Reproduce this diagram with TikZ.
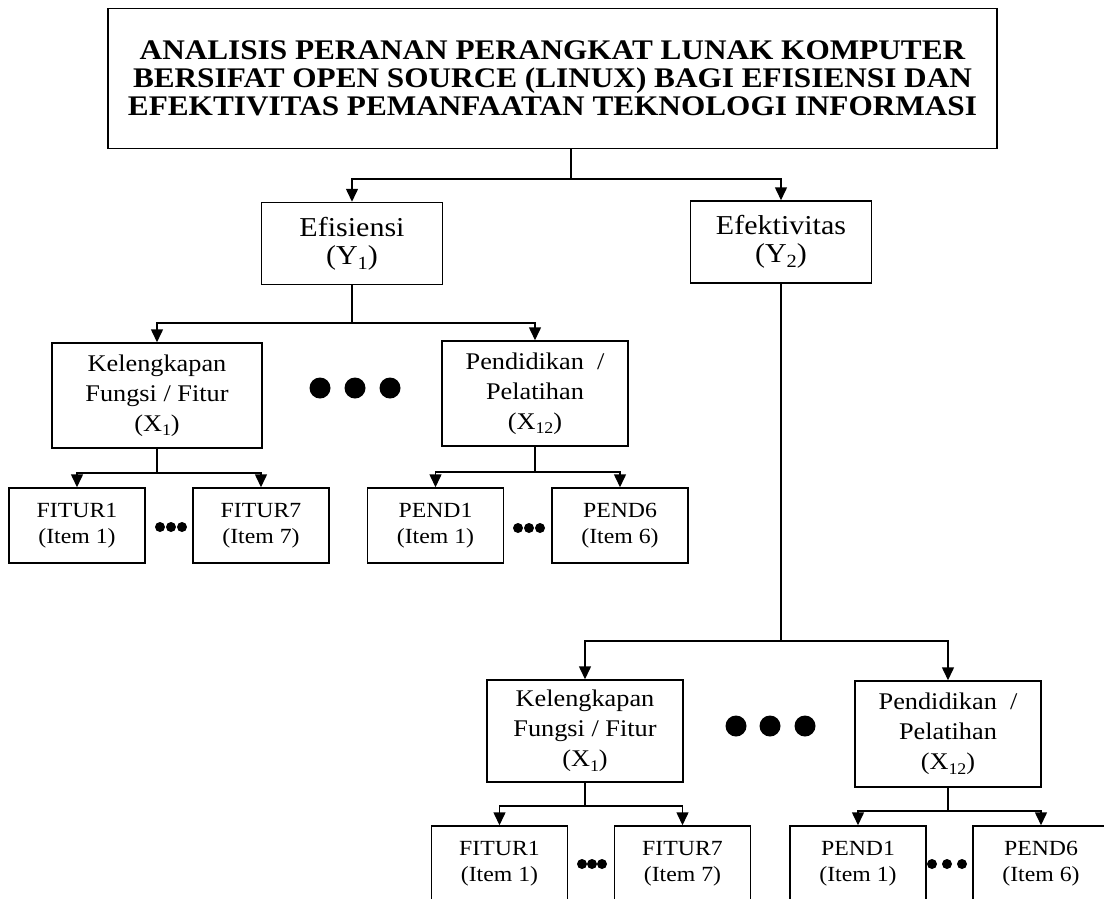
\documentclass[tikz,border=0pt]{standalone}
\usepackage{fontspec}
\setmainfont{Liberation Serif}[FakeStretch=1.1]
\usetikzlibrary{arrows.meta}

\newcommand{\indeks}[1]{\raisebox{-0.4ex}{\scalebox{0.68}{#1}}}

\tikzset{
  kotak/.style={draw, line width=1.5pt, align=center, inner sep=0pt},
  judul/.style={kotak, minimum width=889pt, minimum height=140pt, font=\bfseries\fontsize{28.4}{28}\selectfont},
  var/.style={kotak, minimum width=181pt, minimum height=82pt, font=\fontsize{27.3}{28}\selectfont},
  indikator/.style={kotak, minimum height=105pt, font=\fontsize{23.9}{30}\selectfont},
  butir/.style={kotak, minimum width=136pt, minimum height=75pt, font=\fontsize{21.6}{26}\selectfont},
  garis/.style={line width=1.5pt},
  panah/.style={garis, -{Triangle[length=13pt,width=12pt]}},
}

\begin{document}
\begin{tikzpicture}[x=1pt,y=-1pt]
            % Batas gambar
            \useasboundingbox (0,0) rectangle (1104,898);
            \fill[white] (0,0) rectangle (1104,898);
            \clip (0,0) rectangle (1104,898);

            % Judul
            \node[judul] (judul) at (552.5,78.5) {ANALISIS PERANAN PERANGKAT LUNAK KOMPUTER\\BERSIFAT OPEN SOURCE (LINUX) BAGI EFISIENSI DAN\\EFEKTIVITAS PEMANFAATAN TEKNOLOGI INFORMASI};

            % Variabel Y
            \node[var] (efis) at (352,243.5) {Efisiensi\\(Y\indeks{1})};
            \node[var] (efek) at (781,242) {Efektivitas\\(Y\indeks{2})};

            % Cabang judul
            \coordinate (cjudul) at (571,179);
            \draw[garis] (judul.south -| cjudul) -- (cjudul);
            \draw[panah] (cjudul) -| (efis.north);
            \draw[panah] (cjudul) -| (efek.north);

            % Indikator Efisiensi
            \node[indikator, minimum width=210pt] (kel1) at (157,395.5) {Kelengkapan\\Fungsi / Fitur\\(X\indeks{1})};
            \node[indikator, minimum width=186pt] (pend1) at (535,393.5) {Pendidikan~~/\\Pelatihan\\(X\indeks{12})};
            \coordinate (cefis) at (352,323);
            \draw[garis] (efis.south) -- (cefis);
            \draw[panah] (cefis) -| (kel1.north);
            \draw[panah] (cefis) -| (pend1.north);
            \foreach \x in {320,355,390} \fill (\x,388) circle (10.5);

            % Butir Efisiensi
            \node[butir] (fit1a) at (77,525.5) {FITUR1\\(Item 1)};
            \node[butir] (fit1b) at (261,525.5) {FITUR7\\(Item 7)};
            \node[butir] (pen1a) at (435.5,525.5) {PEND1\\(Item 1)};
            \node[butir] (pen1b) at (620,525.5) {PEND6\\(Item 6)};
            \coordinate (ckel1) at (157,473);
            \draw[garis] (kel1.south) -- (ckel1);
            \draw[panah] (ckel1) -| (fit1a.north);
            \draw[panah] (ckel1) -| (fit1b.north);
            \coordinate (cpend1) at (535,472);
            \draw[garis] (pend1.south) -- (cpend1);
            \draw[panah] (cpend1) -| (pen1a.north);
            \draw[panah] (cpend1) -| (pen1b.north);
            \foreach \x in {160,171,182} \fill (\x,527) circle (5);
            \foreach \x in {518,529,540} \fill (\x,528) circle (5);

            % Indikator Efektivitas
            \node[indikator, minimum width=196pt, minimum height=102pt] (kel2) at (585,731) {Kelengkapan\\Fungsi / Fitur\\(X\indeks{1})};
            \node[indikator, minimum width=186pt, minimum height=106pt] (pend2) at (948,734) {Pendidikan~~/\\Pelatihan\\(X\indeks{12})};
            \coordinate (cefek) at (781,641);
            \draw[garis] (efek.south) -- (cefek);
            \draw[panah] (cefek) -| (kel2.north);
            \draw[panah] (cefek) -| (pend2.north);
            \foreach \x in {736,770,805} \fill (\x,726) circle (10.5);

            % Butir Efektivitas
            \node[butir] (fit2a) at (499.5,863.5) {FITUR1\\(Item 1)};
            \node[butir] (fit2b) at (682.5,863.5) {FITUR7\\(Item 7)};
            \node[butir] (pen2a) at (858,863.5) {PEND1\\(Item 1)};
            \node[butir] (pen2b) at (1041,863.5) {PEND6\\(Item 6)};
            \coordinate (ckel2) at (585,806);
            \draw[garis] (kel2.south) -- (ckel2);
            \draw[panah] (ckel2) -| (fit2a.north);
            \draw[panah] (ckel2) -| (fit2b.north);
            \coordinate (cpend2) at (948,811);
            \draw[garis] (pend2.south) -- (cpend2);
            \draw[panah] (cpend2) -| (pen2a.north);
            \draw[panah] (cpend2) -| (pen2b.north);
            \foreach \x in {582,592,602} \fill (\x,864) circle (5);
            \foreach \x in {932,947,962} \fill (\x,864) circle (5);
        \end{tikzpicture}
\end{document}
